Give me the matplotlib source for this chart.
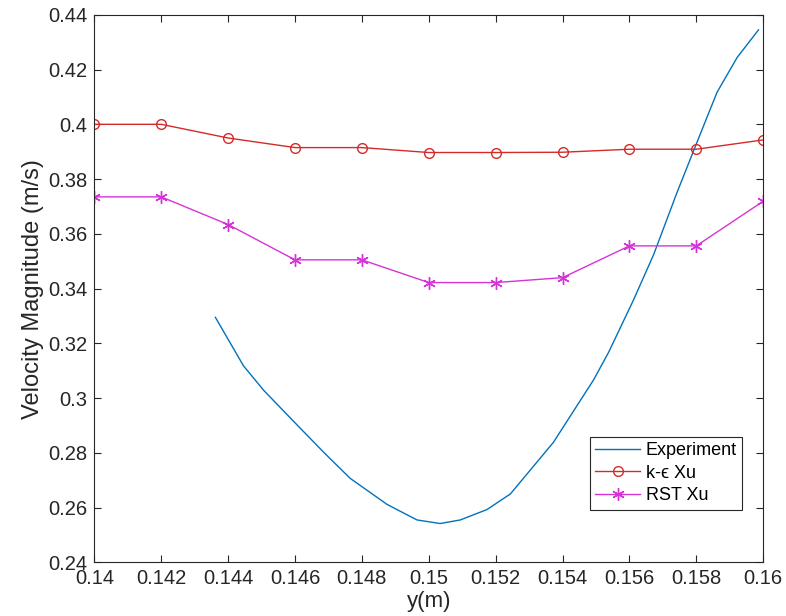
import matplotlib
matplotlib.use("Agg")
import matplotlib.pyplot as plt

plt.rcParams['font.family'] = ['Liberation Sans', 'DejaVu Sans']

# experiment curve
exp_y = [0.14362, 0.14446, 0.14506, 0.14596, 0.14686, 0.14765, 0.14875, 0.14965,
         0.15034, 0.15094, 0.15174, 0.15244, 0.15313, 0.15373, 0.15433, 0.15493,
         0.15538, 0.15612, 0.15672, 0.15742, 0.15812, 0.15862, 0.15922, 0.15986]
exp_v = [0.3295, 0.3118, 0.3029, 0.2915, 0.2802, 0.2707, 0.2612, 0.2555,
         0.2542, 0.2555, 0.2593, 0.2650, 0.2751, 0.2839, 0.2953, 0.3067,
         0.3168, 0.3358, 0.3523, 0.3750, 0.3965, 0.4117, 0.4244, 0.4345]

# simulations
sim_y = [0.140, 0.142, 0.144, 0.146, 0.148, 0.150, 0.152, 0.154, 0.156, 0.158, 0.160]
ke_v = [0.400, 0.400, 0.395, 0.3915, 0.3915, 0.3897, 0.3897, 0.3898, 0.3909, 0.3909, 0.3943]
rst_v = [0.3735, 0.3735, 0.3634, 0.3505, 0.3505, 0.3422, 0.3422, 0.3440, 0.3556, 0.3556, 0.3719]

xticks = [0.14, 0.142, 0.144, 0.146, 0.148, 0.15, 0.152, 0.154, 0.156, 0.158, 0.16]
yticks = [0.24, 0.26, 0.28, 0.3, 0.32, 0.34, 0.36, 0.38, 0.4, 0.42, 0.44]

fig = plt.figure(figsize=(7.86, 6.16), dpi=100)
ax = fig.add_axes([0.12, 0.087, 0.851, 0.889])

ax.plot(exp_y, exp_v, color='#0072BD', lw=1.0, label='Experiment')
ax.plot(sim_y, ke_v, color='#d42a2a', lw=1.0, marker='o', ms=7,
        mfc='none', mec='#d42a2a', label='k-ϵ Xu')
ax.plot(sim_y, rst_v, color='#d633d6', lw=1.0, marker=(6, 2, 0), ms=9,
        mec='#d633d6', mew=1.0, label='RST Xu')

ax.set_xlim(0.14, 0.16)
ax.set_ylim(0.24, 0.44)
ax.set_xticks(xticks)
ax.set_xticklabels([f'{t:g}' for t in xticks])
ax.set_yticks(yticks)
ax.set_yticklabels([f'{t:g}' for t in yticks])

ax.tick_params(direction='in', top=True, right=True, length=5,
               color='#262626', labelcolor='#262626', labelsize=14.5, pad=5)
for s in ax.spines.values():
    s.set_color('#262626')
    s.set_linewidth(0.8)

ax.set_xlabel('y(m)', fontsize=16, color='#262626', labelpad=2)
ax.set_ylabel('Velocity Magnitude (m/s)', fontsize=17, color='#262626', labelpad=3)

leg = ax.legend(loc='lower right', bbox_to_anchor=(0.982, 0.08), fontsize=13,
                fancybox=False, edgecolor='#262626', framealpha=1,
                handlelength=2.5, borderpad=0.3, labelspacing=0.3, handletextpad=0.3)
leg.get_frame().set_linewidth(0.8)

fig.savefig('out.png', dpi=100)
